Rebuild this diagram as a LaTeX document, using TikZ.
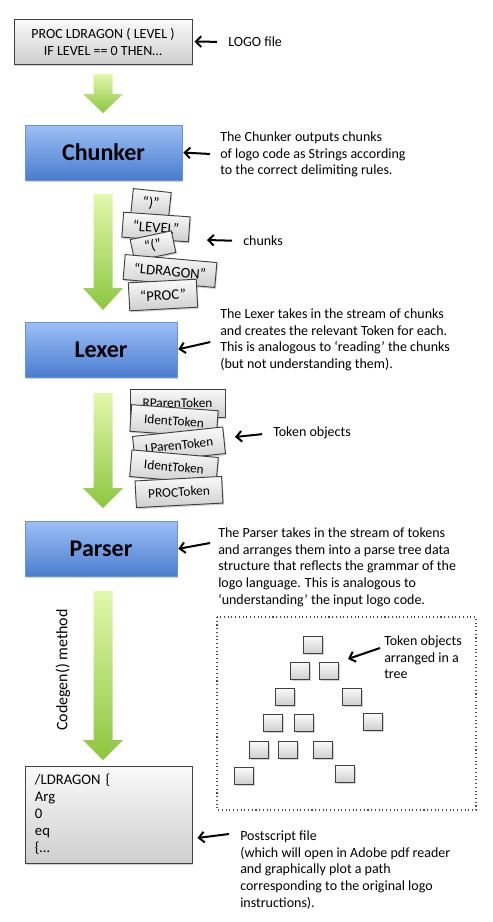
\documentclass[tikz,border=0pt]{standalone}
\usepackage{fontspec}
\setmainfont{Carlito}
\usetikzlibrary{arrows.meta,shadows}
\definecolor{stageTop}{HTML}{9CBFF6}
\definecolor{stageBot}{HTML}{4A7DCF}
\definecolor{stageEdge}{HTML}{6A92D4}
\definecolor{flowTop}{HTML}{E2F8AC}
\definecolor{flowBot}{HTML}{8CC63F}
\newcommand\flowarrow[3]{% shaft top, head start, tip
  \shade[top color=flowTop,bottom color=flowBot](93.5,#1)--(112.5,#1)--(112.5,#2)
    --(123,#2)--(103,#3)--(83,#2)--(93.5,#2)--cycle;}

\begin{document}
\begin{tikzpicture}[x=0.75pt,y=-0.75pt,
    every node/.style={inner sep=0pt,font=\fontsize{10.5}{12.5}\selectfont},
    >={Straight Barb[length=4pt,width=8pt]},
    ptr/.style={->,line width=1.5pt},
    shadowed/.style={drop shadow={opacity=0.35,shadow xshift=0.8pt,shadow yshift=-1.2pt}},
    stage/.style={draw=stageEdge,line width=0.5pt,top color=stageTop,bottom color=stageBot,
      shadowed,minimum height=41.25pt,font=\fontsize{18}{20}\selectfont\bfseries},
    filebox/.style={draw=black!75,line width=0.7pt,top color=gray!4,bottom color=gray!38,shadowed},
    chunk/.style={filebox,font=\fontsize{11}{12}\selectfont},
    token/.style={filebox,font=\fontsize{10}{12}\selectfont,minimum width=65pt,minimum height=20pt},
    leaf/.style={filebox,minimum width=14.25pt,minimum height=12.75pt},
    note/.style={anchor=north west,align=left}]
  \useasboundingbox (0,0) rectangle (493,922);
  % files and stages
  \node[filebox,minimum width=133.5pt,minimum height=33.75pt,align=center,
    font=\fontsize{10.5}{12.75}\selectfont] (logo) at (103,41.5)
    {PROC LDRAGON ( LEVEL )\\IF LEVEL == 0 THEN…};
  \node[stage,minimum width=117.75pt] (chunker) at (103.5,152.5) {Chunker};
  \node[stage,minimum width=114pt] (lexer) at (101,349.5) {Lexer};
  \node[stage,minimum width=114pt] (parser) at (101,549) {Parser};
  \node[filebox,minimum width=125.25pt,minimum height=72.75pt,text width=110.25pt,
    inner xsep=7.5pt,align=left,font=\fontsize{11}{12.75}\selectfont] (ps) at (108.5,814.5)
    {/LDRAGON \{\\Arg\\0\\eq\\\{…};
  \flowarrow{74}{94}{113}
  \flowarrow{194}{288}{310}
  \flowarrow{393}{488}{508}
  \flowarrow{591}{740}{760}
  \node[rotate=90,font=\fontsize{12}{14}\selectfont] (codegen) at (63,670) {Codegen() method};
  % chunks
  \node[chunk,minimum width=28.5pt,minimum height=18.75pt,rotate=-6] (c1) at (151,203) {“)”};
  \node[chunk,minimum width=50pt,minimum height=18.75pt,rotate=-4] (c2) at (156,227) {“LEVEL”};
  \node[chunk,minimum width=31.5pt,minimum height=16.5pt,rotate=12] (c3) at (153,246) {“(”};
  \node[chunk,minimum width=69pt,minimum height=18.75pt,rotate=-5] (c4) at (170,271) {“LDRAGON”};
  \node[chunk,minimum width=51pt,minimum height=21pt,rotate=3] (c5) at (163,295) {“PROC”};
  % tokens
  \node[token,minimum width=71.25pt,minimum height=21pt] (k1) at (177.5,403) {RParenToken};
  \node[token,rotate=-4] (k2) at (174,421) {IdentToken};
  \node[token,minimum width=68pt,rotate=6] (k3) at (179,445) {LParenToken};
  \node[token,rotate=-5] (k4) at (174,467) {IdentToken};
  \node[token,rotate=3] (k5) at (179,492) {PROCToken};
  % parse tree
  \draw[dotted,line width=0.8pt,black!70] (217,617) rectangle (476,810);
  \node[leaf] (t1) at (313,645) {}; \node[leaf] (t2) at (300,671) {};
  \node[leaf] (t3) at (329,671) {}; \node[leaf] (t4) at (285,697) {};
  \node[leaf] (t5) at (352,697) {}; \node[leaf] (t6) at (273,723) {};
  \node[leaf] (t7) at (304,723) {}; \node[leaf] (t8) at (373,722) {};
  \node[leaf] (t9) at (259,750) {}; \node[leaf] (t10) at (288,750) {};
  \node[leaf] (t11) at (323,750) {}; \node[leaf] (t12) at (244,776) {};
  \node[leaf] (t13) at (345,774) {};
  % notes
  \node[anchor=west] (logolbl) at (228,42) {LOGO file};
  \node[note] (chunkdesc) at (220,131.5) {The Chunker outputs chunks\\of logo code as Strings according\\to the correct delimiting rules.};
  \node[anchor=west] (chunkslbl) at (243,241) {chunks};
  \node[note] (lexdesc) at (220,308.5) {The Lexer takes in the stream of chunks\\and creates the relevant Token for each.\\This is analogous to ‘reading’ the chunks\\(but not understanding them).};
  \node[anchor=west] (toklbl) at (273,433) {Token objects};
  \node[note] (parsedesc) at (218,527.5) {The Parser takes in the stream of tokens\\and arranges them into a parse tree data\\structure that reflects the grammar of the\\logo language. This is analogous to\\‘understanding’ the input logo code.};
  \node[note] (treelbl) at (384,635.5) {Token objects\\arranged in a\\tree};
  \node[note] (psdesc) at (240,830.5) {Postscript file\\(which will open in Adobe pdf reader\\and graphically plot a path\\corresponding to the original logo\\instructions).};
  % pointers
  \coordinate (chunkstip) at (207,240);
  \coordinate (tokstip) at (235,437);
  \coordinate (parsetail) at (210,543);
  \coordinate (treetail) at (380,648);
  \coordinate (pstail) at (229,834);
  \draw[ptr,shorten <=8.25pt,shorten >=1.5pt] (logolbl.west) -- (logo.east);
  \draw[ptr,shorten <=7.5pt,shorten >=0.75pt] (chunkdesc.west) -- (chunker.east);
  \draw[ptr,shorten <=8.25pt] (chunkslbl.west) -- (chunkstip);
  \draw[ptr,shorten <=7.5pt,shorten >=0.75pt] (lexdesc.west) -- (lexer.east);
  \draw[ptr,shorten <=8.25pt] (toklbl.west) -- (tokstip);
  \draw[ptr,shorten >=0.75pt] (parsetail) -- (parser.east);
  \draw[ptr,shorten >=7.2pt] (treetail) -- (t3.north east);
  \draw[ptr] (pstail) -- ([xshift=3.75pt,yshift=-17.6pt]ps.east);
\end{tikzpicture}
\end{document}
